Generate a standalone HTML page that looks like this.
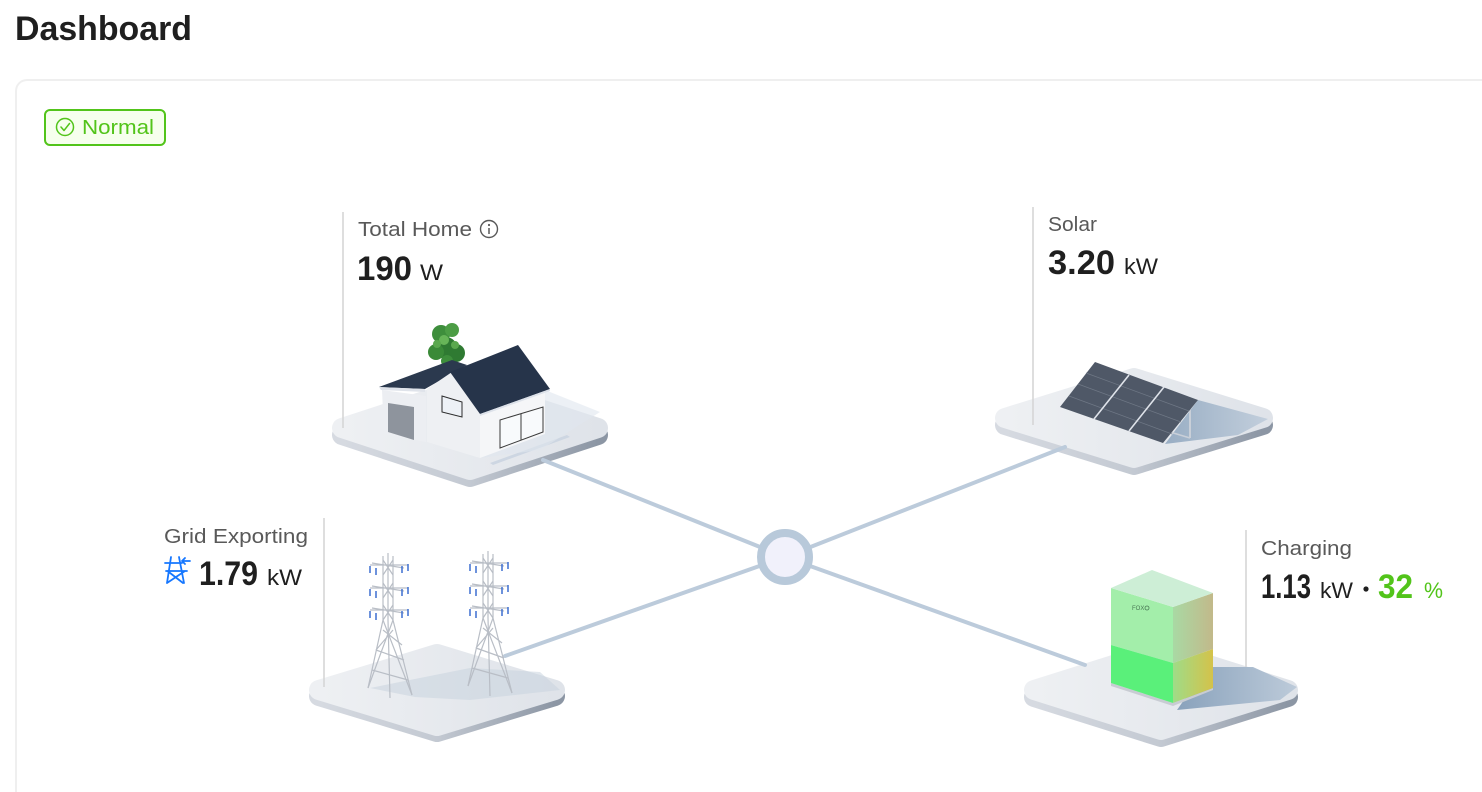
<!DOCTYPE html>
<html><head><meta charset="utf-8"><style>
html,body{margin:0;padding:0;background:#fff;width:1482px;height:792px;overflow:hidden;}
.wrap{position:relative;width:1482px;height:792px;overflow:hidden;background:#fff;}
.card{position:absolute;left:15px;top:79px;width:1467px;height:713px;border-top:2px solid #efefef;border-left:2px solid #efefef;border-top-left-radius:12px;box-sizing:border-box;}
svg{position:absolute;left:0;top:0;}
text{font-family:"Liberation Sans",Arial,sans-serif;}
</style></head><body>
<div class="wrap">
<div class="card"></div>
<svg width="1482" height="792" viewBox="0 0 1482 792" xmlns="http://www.w3.org/2000/svg">
<defs>
<linearGradient id="top" x1="0" y1="0" x2="1" y2="0"><stop offset="0" stop-color="#eef0f3"/><stop offset="1" stop-color="#dfe3e9"/></linearGradient>
<linearGradient id="slab" x1="0" y1="0" x2="1" y2="0"><stop offset="0" stop-color="#d6dae1"/><stop offset="0.5" stop-color="#c3c9d2"/><stop offset="1" stop-color="#8c96a4"/></linearGradient>
<linearGradient id="bside" x1="0" y1="0" x2="1" y2="0"><stop offset="0" stop-color="#9fdc88"/><stop offset="1" stop-color="#d4c24a"/></linearGradient>
<linearGradient id="bsideTop" x1="0" y1="0" x2="1" y2="0"><stop offset="0" stop-color="#a9d9a4"/><stop offset="1" stop-color="#c2b98a"/></linearGradient>
<linearGradient id="shad" x1="0" y1="0" x2="1" y2="0"><stop offset="0" stop-color="#7f9ab6"/><stop offset="1" stop-color="#b9c8d8"/></linearGradient>
</defs>

<!-- Platforms -->
<g stroke-linejoin="round" stroke-width="20">
 <polygon points="342,435 470,393 598,435 470,477" fill="url(#slab)" stroke="url(#slab)"/>
 <polygon points="342,428 470,386 598,428 470,470" fill="url(#top)" stroke="url(#top)"/>
 <polygon points="1005,425 1134,385 1263,425 1134,465" fill="url(#slab)" stroke="url(#slab)"/>
 <polygon points="1005,418 1134,378 1263,418 1134,458" fill="url(#top)" stroke="url(#top)"/>
 <polygon points="319,696 437,660 555,696 437,732" fill="url(#slab)" stroke="url(#slab)"/>
 <polygon points="319,690 437,654 555,690 437,726" fill="url(#top)" stroke="url(#top)"/>
 <polygon points="1034,697 1161,657 1288,697 1161,737" fill="url(#slab)" stroke="url(#slab)"/>
 <polygon points="1034,690 1161,650 1288,690 1161,730" fill="url(#top)" stroke="url(#top)"/>
</g>

<!-- connectors -->
<g stroke="#bccbdb" stroke-width="4" stroke-linecap="round">
 <line x1="543" y1="460" x2="785" y2="557"/>
 <line x1="1065" y1="447" x2="785" y2="557"/>
 <line x1="505" y1="656" x2="785" y2="557"/>
 <line x1="1085" y1="665" x2="785" y2="557"/>
</g>

<!-- House -->
<g>
 <polygon points="490,463 567,435 570,437 493,465" fill="#cdd6e2"/>
 <polygon points="480,413 545,390 600,412 540,450 480,458" fill="#dfe6ef" opacity="0.6"/>
 <g>
  <circle cx="446" cy="348" r="11" fill="#2f7a32"/>
  <circle cx="441" cy="334" r="9" fill="#3e8e3c"/>
  <circle cx="452" cy="330" r="7" fill="#4c9d45"/>
  <circle cx="436" cy="352" r="8" fill="#3a8a38"/>
  <circle cx="456" cy="353" r="9" fill="#2f7a32"/>
  <circle cx="447" cy="361" r="6" fill="#3e8e3c"/>
  <circle cx="444" cy="340" r="5" fill="#67b558"/>
  <circle cx="455" cy="345" r="4" fill="#5aa84e"/>
  <circle cx="437" cy="344" r="4" fill="#5aa84e"/>
 </g>
 <polygon points="382,390 426,396 426,442 384,434" fill="#eceef2"/>
 <polygon points="388,403 414,407 414,440 388,432" fill="#8e949d"/>
 <polygon points="379,387 452,360 467,365 425,389" fill="#2b394e"/>
 <polygon points="379,387 425,389 425,392 381,390" fill="#dfe3ea"/>
 <polygon points="427,389 452,372 480,413 480,458 427,442" fill="#eef0f3"/>
 <polygon points="442,396 462,402 462,417 442,412" fill="#edf1f6" stroke="#2c2c2c" stroke-width="1"/>
 <polygon points="480,413 545,390 545,434 480,458" fill="#f5f6f8"/>
 <polygon points="500,420 543,407 543,432 500,448" fill="#f8fafc" stroke="#3a3a3a" stroke-width="1"/>
 <line x1="521" y1="414" x2="521" y2="440" stroke="#3a3a3a" stroke-width="1"/>
 <polygon points="450,372 518,345 550,389 480,414" fill="#26344a"/>
 <polygon points="480,414 550,389 550,391 480,416" fill="#dde2ea"/>
</g>

<!-- Solar -->
<g>
 <polygon points="1198,400 1268,419 1238,435 1165,444" fill="url(#shad)" opacity="0.75"/>
 <line x1="1190" y1="408" x2="1190" y2="438" stroke="#c9cfd8" stroke-width="2"/>
 <line x1="1170" y1="432" x2="1190" y2="438" stroke="#c9cfd8" stroke-width="1.5"/>
 <polygon points="1095,362 1198,400 1163,443 1060,407" fill="#4f5867"/>
 <g stroke="#6f7886" stroke-width="0.7">
  <line x1="1086" y1="373" x2="1189" y2="411"/>
  <line x1="1078" y1="384" x2="1181" y2="422"/>
  <line x1="1069" y1="396" x2="1172" y2="434"/>
 </g>
 <g stroke="#dfe3ea" stroke-width="1.6">
  <line x1="1129" y1="375" x2="1094" y2="419"/>
  <line x1="1164" y1="387" x2="1129" y2="431"/>
 </g>
</g>

<!-- Towers -->
<g>
 <polygon points="370,688 470,668 540,672 560,690 470,700 415,697" fill="#c9d3df" opacity="0.55"/>
 <g id="tw" stroke="#b9bec6" stroke-width="1.2" fill="none">
  <path d="M383 556 L383 620 L368 688 M393 556 L393 620 L412 695 M388 553 L388 620 L390 698"/>
  <path d="M383 620 L412 695 M393 620 L368 688 M376 650 L404 660 M372 670 L408 680 M383 630 L402 645 M393 630 L376 650"/>
  <path d="M383 560 L393 575 M393 560 L383 575 M383 583 L393 598 M393 583 L383 598 M383 605 L393 620 M393 605 L383 620"/>
  <path d="M370 565 L408 565 M372 563 L404 568 M370 588 L408 588 M372 586 L404 591 M370 610 L408 610 M372 608 L404 613"/>
 </g>
 <g stroke="#3d6fd1" stroke-width="1.5">
  <path d="M370 566 v7 M376 568 v7 M402 566 v7 M408 564 v7 M370 589 v7 M376 591 v7 M402 589 v7 M408 587 v7 M370 611 v7 M376 613 v7 M402 611 v7 M408 609 v7"/>
 </g>
 <use href="#tw" x="100" y="-2"/>
 <g stroke="#3d6fd1" stroke-width="1.5" transform="translate(100,-2)">
  <path d="M370 566 v7 M376 568 v7 M402 566 v7 M408 564 v7 M370 589 v7 M376 591 v7 M402 589 v7 M408 587 v7 M370 611 v7 M376 613 v7 M402 611 v7 M408 609 v7"/>
 </g>
</g>

<!-- Battery -->
<g>
 <polygon points="1207,667 1253,667 1297,687 1280,700 1177,710" fill="url(#shad)" opacity="0.9"/>
 <polygon points="1111,683 1173,703 1213,688 1213,690 1173,706 1111,686" fill="#c8ccd3"/>
 <polygon points="1111,588 1173,607 1173,663 1111,645" fill="#a3eeaa"/>
 <polygon points="1111,645 1173,663 1173,703 1111,683" fill="#5af07a"/>
 <polygon points="1173,607 1213,593 1213,649 1173,663" fill="url(#bsideTop)"/>
 <polygon points="1173,663 1213,649 1213,688 1173,703" fill="url(#bside)"/>
 <polygon points="1111,588 1152,570 1213,593 1173,607" fill="#cdeed6"/>
 <text x="1132" y="610" font-size="6" fill="#4a7a55">FOX</text>
 <circle cx="1147" cy="608" r="2" fill="none" stroke="#4a7a55" stroke-width="0.8"/>
</g>

<!-- hub -->
<circle cx="785" cy="557" r="24" fill="#f1f1fb" stroke="#b8c9da" stroke-width="8"/>

<!-- vertical leader lines -->
<g stroke="#d4d4d4" stroke-width="1.5">
 <line x1="343" y1="212" x2="343" y2="428"/>
 <line x1="1033" y1="207" x2="1033" y2="425"/>
 <line x1="324" y1="518" x2="324" y2="687"/>
 <line x1="1246" y1="530" x2="1246" y2="667"/>
</g>

<!-- Title -->
<text x="15" y="40" font-size="34" font-weight="bold" fill="#1f1f1f" textLength="177" lengthAdjust="spacingAndGlyphs">Dashboard</text>

<!-- Normal badge -->
<rect x="45" y="110" width="120" height="35" rx="5" fill="#f6ffed" stroke="#52c41a" stroke-width="2"/>
<circle cx="65" cy="127" r="8.5" fill="none" stroke="#52c41a" stroke-width="1.5"/>
<path d="M61 127 L64 130.5 L69.5 123.5" fill="none" stroke="#52c41a" stroke-width="1.5" stroke-linecap="round" stroke-linejoin="round"/>
<text x="82" y="134" font-size="20" fill="#52c41a" textLength="72" lengthAdjust="spacingAndGlyphs">Normal</text>

<!-- Total Home -->
<text x="358" y="236" font-size="20" fill="#595959" textLength="114" lengthAdjust="spacingAndGlyphs">Total Home</text>
<circle cx="489" cy="229" r="8.5" fill="none" stroke="#595959" stroke-width="1.4"/>
<circle cx="489" cy="225" r="1.1" fill="#595959"/>
<line x1="489" y1="228" x2="489" y2="234" stroke="#595959" stroke-width="1.5"/>
<text x="357" y="280" font-size="34" font-weight="bold" fill="#1f1f1f" textLength="55" lengthAdjust="spacingAndGlyphs">190</text>
<text x="420" y="280" font-size="22" fill="#1f1f1f" textLength="23" lengthAdjust="spacingAndGlyphs">W</text>

<!-- Solar -->
<text x="1048" y="231" font-size="20" fill="#595959" textLength="49" lengthAdjust="spacingAndGlyphs">Solar</text>
<text x="1048" y="274" font-size="34" font-weight="bold" fill="#1f1f1f" textLength="67" lengthAdjust="spacingAndGlyphs">3.20</text>
<text x="1124" y="274" font-size="22" fill="#1f1f1f" textLength="34" lengthAdjust="spacingAndGlyphs">kW</text>

<!-- Grid -->
<text x="164" y="543" font-size="20" fill="#595959" textLength="144" lengthAdjust="spacingAndGlyphs">Grid Exporting</text>
<g stroke="#1677ff" stroke-width="1.8" fill="none" stroke-linecap="round" stroke-linejoin="round">
 <path d="M171 557 L167 583 M179 557 L184 583 M165 563 H182 M166 571 H187 M167.5 571 L183 583 M185 571 L167 583"/>
 <path d="M182 561 H190 M182 561 L185 558 M182 561 L185 564"/>
</g>
<text x="199" y="585" font-size="34" font-weight="bold" fill="#1f1f1f" textLength="59" lengthAdjust="spacingAndGlyphs">1.79</text>
<text x="267" y="585" font-size="22" fill="#1f1f1f" textLength="35" lengthAdjust="spacingAndGlyphs">kW</text>

<!-- Charging -->
<text x="1261" y="555" font-size="20" fill="#595959" textLength="91" lengthAdjust="spacingAndGlyphs">Charging</text>
<text x="1261" y="598" font-size="34" font-weight="bold" fill="#1f1f1f" textLength="50" lengthAdjust="spacingAndGlyphs">1.13</text>
<text x="1320" y="598" font-size="22" fill="#1f1f1f" textLength="33" lengthAdjust="spacingAndGlyphs">kW</text>
<circle cx="1366" cy="589" r="2.6" fill="#1f1f1f"/>
<text x="1378" y="598" font-size="34" font-weight="bold" fill="#52c41a" textLength="35" lengthAdjust="spacingAndGlyphs">32</text>
<text x="1424" y="598" font-size="22" fill="#52c41a" textLength="19" lengthAdjust="spacingAndGlyphs">%</text>
</svg>
</div>
</body></html>
